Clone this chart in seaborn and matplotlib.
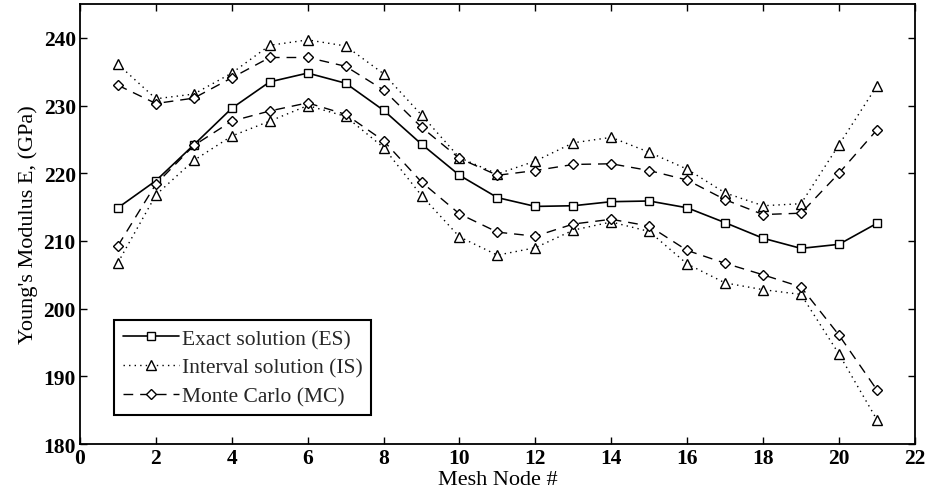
import matplotlib
matplotlib.use("Agg")
import matplotlib.pyplot as plt
import seaborn as sns
import numpy as np
import pandas as pd

nodes = list(range(1, 22))
es = [214.9, 218.9, 224.2, 229.6, 233.5, 234.8, 233.3, 229.3, 224.3, 219.7, 216.4,
      215.1, 215.2, 215.8, 215.9, 214.9, 212.7, 210.4, 208.9, 209.5, 212.6]
is_upper = [236.1, 231.0, 231.7, 234.8, 238.9, 239.7, 238.8, 234.7, 228.6, 222.3, 219.9,
            221.8, 224.5, 225.3, 223.1, 220.6, 217.1, 215.2, 215.5, 224.2, 232.9]
is_lower = [206.8, 216.8, 221.9, 225.5, 227.7, 230.0, 228.4, 223.8, 216.7, 210.6, 207.9,
            209.0, 211.6, 212.8, 211.4, 206.6, 203.8, 202.8, 202.1, 193.3, 183.6]
mc_upper = [233.0, 230.3, 231.1, 234.1, 237.1, 237.1, 235.8, 232.3, 226.8, 222.2, 219.7,
            220.4, 221.3, 221.4, 220.4, 219.0, 216.1, 213.9, 214.1, 220.0, 226.4]
mc_lower = [209.3, 218.4, 224.1, 227.7, 229.2, 230.4, 228.7, 224.8, 218.7, 214.0, 211.3,
            210.7, 212.5, 213.2, 212.2, 208.6, 206.7, 205.0, 203.2, 196.1, 188.0]
labels = ["Exact solution (ES)", "Interval solution (IS)", "Monte Carlo (MC)"]
x_ticks = list(range(0, 23, 2))
y_ticks = list(range(180, 241, 10))

sns.set_theme(style="white")
plt.rcParams['font.family'] = ['Liberation Serif', 'DejaVu Serif']

fig, ax = plt.subplots(figsize=(9.25, 5.02), dpi=100)
fig.subplots_adjust(left=0.0865, right=0.989, top=0.990, bottom=0.1135)

common = dict(color='black', markerfacecolor='white', markeredgecolor='black',
              markeredgewidth=1.0, ax=ax)

sns.lineplot(x=nodes, y=es, marker='s', markersize=6, linestyle='-', linewidth=1.2,
             label=labels[0], **common)
sns.lineplot(x=nodes, y=is_upper, marker='^', markersize=7, linestyle=(0, (1, 3)),
             linewidth=1.0, label=labels[1], **common)
sns.lineplot(x=nodes, y=is_lower, marker='^', markersize=7, linestyle=(0, (1, 3)),
             linewidth=1.0, **common)
sns.lineplot(x=nodes, y=mc_upper, marker='D', markersize=5.5, linestyle=(0, (7, 5)),
             linewidth=1.0, label=labels[2], **common)
sns.lineplot(x=nodes, y=mc_lower, marker='D', markersize=5.5, linestyle=(0, (7, 5)),
             linewidth=1.0, **common)

ax.set_xlim(0, 22)
ax.set_ylim(180, 245)
ax.set_xticks(x_ticks)
ax.set_yticks(y_ticks)
ax.set_xticklabels([str(t) for t in x_ticks], fontweight='bold', fontsize=15.5)
ax.set_yticklabels([str(t) for t in y_ticks], fontweight='bold', fontsize=15.5)
ax.tick_params(direction='in', length=5, width=1, top=True, right=True,
               bottom=True, left=True, pad=3, colors='black')
ax.set_xlabel("Mesh Node #", fontsize=16, labelpad=1, color='black')
ax.set_ylabel("Young's Modulus E, (GPa)", fontsize=16, labelpad=4, color='black')
for s in ax.spines.values():
    s.set_color('black')
    s.set_linewidth(1.3)
    s.set_visible(True)

h, l = ax.get_legend_handles_labels()
leg = ax.legend(h, l, loc='lower left', bbox_to_anchor=(0.041, 0.066), fontsize=15.5,
                frameon=True, fancybox=False, edgecolor='black', framealpha=1,
                handlelength=2.6, handletextpad=0.15, borderpad=0.4, labelspacing=0.4,
                borderaxespad=0)
leg.get_frame().set_linewidth(1.5)

fig.savefig("out.png", dpi=100)
